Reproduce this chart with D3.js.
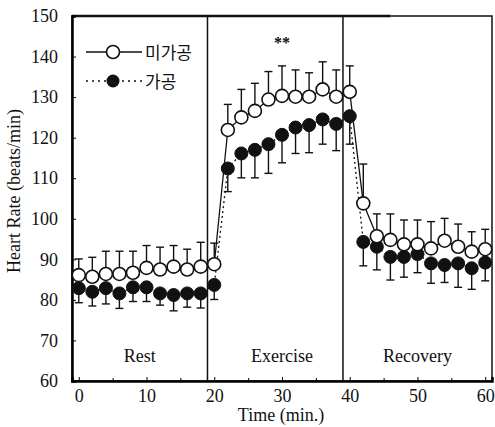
<!DOCTYPE html>
<html>
<head>
<meta charset="utf-8">
<script src="https://cdn.jsdelivr.net/npm/d3@7"></script>
<style>
  body { margin: 0; background: #fff; }
  svg text { font-family: "Liberation Serif", "DejaVu Serif", serif; fill: #111; }
  .kr { font-family: "Noto Sans CJK KR", sans-serif; }
</style>
</head>
<body>
<div class="chart"></div>
<script>
// time points (min.)
const time = [0, 2, 4, 6, 8, 10, 12, 14, 16, 18, 20,
  22, 24, 26, 28, 30, 32, 34, 36, 38, 40,
  42, 44, 46, 48, 50, 52, 54, 56, 58, 60];

// 미가공 (open circles), error bar drawn upward
const rawMean = [86.1, 85.7, 86.4, 86.4, 86.7, 87.9, 87.5, 88.2, 87.5, 88.2, 88.8,
  121.9, 125.0, 126.6, 129.4, 130.3, 130.1, 130.1, 131.9, 130.1, 131.3,
  103.8, 95.7, 94.8, 93.7, 93.7, 92.7, 94.6, 93.1, 91.9, 92.5];
const rawSd = [4.0, 4.8, 5.6, 5.6, 5.3, 5.5, 5.5, 5.2, 5.0, 6.0, 5.2,
  6.3, 6.9, 6.8, 6.9, 7.4, 6.6, 5.9, 6.8, 6.6, 6.4,
  9.7, 5.5, 6.4, 6.0, 6.0, 6.6, 5.5, 5.6, 4.9, 4.9];

// 가공 (filled circles), error bar drawn downward
const procMean = [82.9, 82.0, 82.9, 81.6, 83.1, 83.1, 81.6, 81.2, 81.6, 81.6, 83.7,
  112.4, 116.1, 117.0, 118.4, 120.7, 122.5, 123.1, 124.5, 123.4, 125.3,
  94.3, 93.1, 90.6, 90.6, 91.3, 89.0, 88.6, 89.0, 87.8, 89.2];
const procSd = [3.6, 3.5, 3.9, 3.7, 3.5, 3.5, 2.9, 3.9, 3.4, 3.6, 3.6,
  5.7, 6.0, 6.9, 7.2, 6.9, 6.4, 6.8, 6.1, 6.6, 6.9,
  5.9, 5.7, 5.7, 5.0, 4.6, 4.9, 4.3, 5.9, 5.2, 4.5];

const phaseBreaks = [19, 39];
const phaseNames = ["Rest", "Exercise", "Recovery"];
const phaseCenters = [9, 30, 50];
const xTicks = [0, 10, 20, 30, 40, 50, 60];
const xMinorTicks = [5, 15, 25, 35, 45, 55];
const yTicks = [60, 70, 80, 90, 100, 110, 120, 130, 140, 150];

const W = 495, H = 427;
const margin = { left: 72, right: 492, top: 16, bottom: 381 };

const x = d3.scaleLinear().domain([-1, 61]).range([margin.left, margin.right]);
const y = d3.scaleLinear().domain([60, 150]).range([margin.bottom, margin.top]);

const svg = d3.select(".chart").append("svg")
  .attr("width", W).attr("height", H);

// frame
svg.append("rect")
  .attr("x", margin.left).attr("y", margin.top)
  .attr("width", margin.right - margin.left).attr("height", margin.bottom - margin.top)
  .attr("fill", "none").attr("stroke", "#111").attr("stroke-width", 1.5);
svg.append("line")
  .attr("x1", margin.left).attr("x2", x(46))
  .attr("y1", margin.top).attr("y2", margin.top)
  .attr("stroke", "#111").attr("stroke-width", 2.5);

// phase separators
svg.selectAll(".sep").data(phaseBreaks).enter().append("line")
  .attr("x1", d => x(d)).attr("x2", d => x(d))
  .attr("y1", margin.top).attr("y2", margin.bottom)
  .attr("stroke", "#111").attr("stroke-width", 1.5);

// axes
const yAxis = svg.append("g")
  .attr("transform", "translate(" + margin.left + ",0)")
  .call(d3.axisLeft(y).tickValues(yTicks).tickSize(-4).tickPadding(14));
yAxis.select(".domain").attr("stroke-width", 2.5);
yAxis.selectAll("text").style("font-size", "18px").attr("font-family", "Liberation Serif");

const xAxis = svg.append("g")
  .attr("transform", "translate(0," + margin.bottom + ")")
  .call(d3.axisBottom(x).tickValues(xTicks).tickSize(-4).tickPadding(8));
xAxis.select(".domain").attr("stroke-width", 2.5);
xAxis.selectAll("text").style("font-size", "18px").attr("font-family", "Liberation Serif");

svg.append("g")
  .attr("transform", "translate(0," + margin.bottom + ")")
  .call(d3.axisBottom(x).tickValues(xMinorTicks).tickSize(-3).tickFormat(""))
  .select(".domain").remove();

// axis titles
svg.append("text")
  .attr("x", 281).attr("y", 421)
  .attr("text-anchor", "middle").style("font-size", "18px")
  .text("Time (min.)");

svg.append("text")
  .attr("transform", "translate(20,191) rotate(-90)")
  .attr("text-anchor", "middle").style("font-size", "18px")
  .text("Heart Rate (beats/min)");

// phase labels
svg.selectAll(".phase").data(phaseNames).enter().append("text")
  .attr("x", (d, i) => x(phaseCenters[i]))
  .attr("y", 362)
  .attr("text-anchor", "middle").style("font-size", "18px")
  .text(d => d);

// significance mark
svg.append("text")
  .attr("x", x(30)).attr("y", 48)
  .attr("text-anchor", "middle").style("font-size", "16px").style("font-weight", "bold")
  .text("**");

const raw = time.map((t, i) => ({ t: t, m: rawMean[i], sd: rawSd[i] }));
const proc = time.map((t, i) => ({ t: t, m: procMean[i], sd: procSd[i] }));

const line = d3.line().x(d => x(d.t)).y(d => y(d.m));

svg.append("path").datum(proc)
  .attr("d", line).attr("fill", "none")
  .attr("stroke", "#111").attr("stroke-width", 1.3).attr("stroke-dasharray", "2,3");

svg.append("path").datum(raw)
  .attr("d", line).attr("fill", "none")
  .attr("stroke", "#111").attr("stroke-width", 1.3);

// error bars
const cap = 4;
function errBars(data, dir) {
  const g = svg.append("g").attr("stroke", "#111").attr("stroke-width", 1.4);
  g.selectAll(".bar").data(data).enter().append("line")
    .attr("class", "bar")
    .attr("x1", d => x(d.t)).attr("x2", d => x(d.t))
    .attr("y1", d => y(d.m)).attr("y2", d => y(d.m + dir * d.sd));
  g.selectAll(".cap").data(data).enter().append("line")
    .attr("class", "cap")
    .attr("x1", d => x(d.t) - cap).attr("x2", d => x(d.t) + cap)
    .attr("y1", d => y(d.m + dir * d.sd)).attr("y2", d => y(d.m + dir * d.sd));
}
errBars(raw, 1);
errBars(proc, -1);

const r = 6.5;
svg.selectAll(".pc").data(proc).enter().append("circle")
  .attr("cx", d => x(d.t)).attr("cy", d => y(d.m)).attr("r", r)
  .attr("fill", "#111").attr("stroke", "#111").attr("stroke-width", 1);

svg.selectAll(".rc").data(raw).enter().append("circle")
  .attr("cx", d => x(d.t)).attr("cy", d => y(d.m)).attr("r", r)
  .attr("fill", "#fff").attr("stroke", "#111").attr("stroke-width", 1.6);

// legend
const lg = svg.append("g");
lg.append("line").attr("x1", 86).attr("x2", 142).attr("y1", 52).attr("y2", 52)
  .attr("stroke", "#111").attr("stroke-width", 1.5);
lg.append("circle").attr("cx", 113).attr("cy", 52).attr("r", r)
  .attr("fill", "#fff").attr("stroke", "#111").attr("stroke-width", 1.6);
lg.append("text").attr("class", "kr").attr("x", 145).attr("y", 59)
  .style("font-size", "17px").text("미가공");

lg.append("line").attr("x1", 86).attr("x2", 142).attr("y1", 81).attr("y2", 81)
  .attr("stroke", "#111").attr("stroke-width", 1.3).attr("stroke-dasharray", "2,4");
lg.append("circle").attr("cx", 113).attr("cy", 81).attr("r", r)
  .attr("fill", "#111");
lg.append("text").attr("class", "kr").attr("x", 145).attr("y", 88)
  .style("font-size", "17px").text("가공");
</script>
</body>
</html>
